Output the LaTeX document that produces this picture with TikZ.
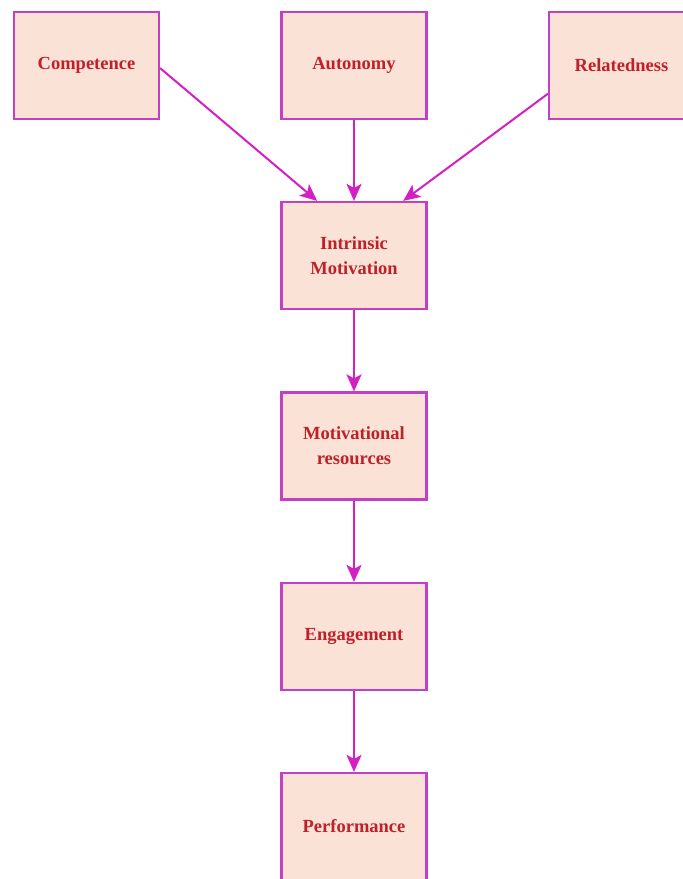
\documentclass[tikz,border=0pt]{standalone}
\usepackage{fontspec}
\setmainfont{Liberation Serif}
\usetikzlibrary{arrows.meta}

\definecolor{boxfill}{HTML}{FAE3D6}
\definecolor{boxline}{HTML}{C33FC3}
\definecolor{arrowline}{HTML}{D41FC4}
\definecolor{labeltext}{HTML}{C0202A}

\begin{document}
\begin{tikzpicture}[x=1pt,y=1pt,yscale=-1,xscale=1,
    factor/.style={draw=boxline, line width=2.2pt, fill=boxfill, minimum width=145pt, minimum height=107pt,
        inner sep=0pt, align=center, text=labeltext, font=\fontsize{18.5}{25}\selectfont\bfseries},
    link/.style={draw=arrowline, line width=2pt, -{Stealth[length=17pt,width=15pt,inset=4pt]}}]

            \useasboundingbox (0,0) rectangle (683,879);

            % Boxes
            \node [factor] (comp)  at ( 86.5, 65.5) {Competence};
            \node [factor] (auto)  at (354.0, 65.5) {Autonomy};
            \node [factor] (rel)   at (621.5, 65.5) {Relatedness};
            \node [factor] (intr)  at (354.0,255.5) {Intrinsic\\Motivation};
            \node [factor] (res)   at (354.0,446.0) {Motivational\\resources};
            \node [factor] (eng)   at (354.0,636.5) {Engagement};
            \node [factor] (perf)  at (354.0,826.5) {Performance};

            % Arrows
            \draw [link] (comp.358) -- (intr.124);
            \draw [link] (auto) -- (intr);
            \draw [link] (rel.201) -- (intr.48);
            \draw [link] (intr) -- (res);
            \draw [link] (res) -- (eng);
            \draw [link] (eng) -- (perf);

            \end{tikzpicture}
\end{document}
